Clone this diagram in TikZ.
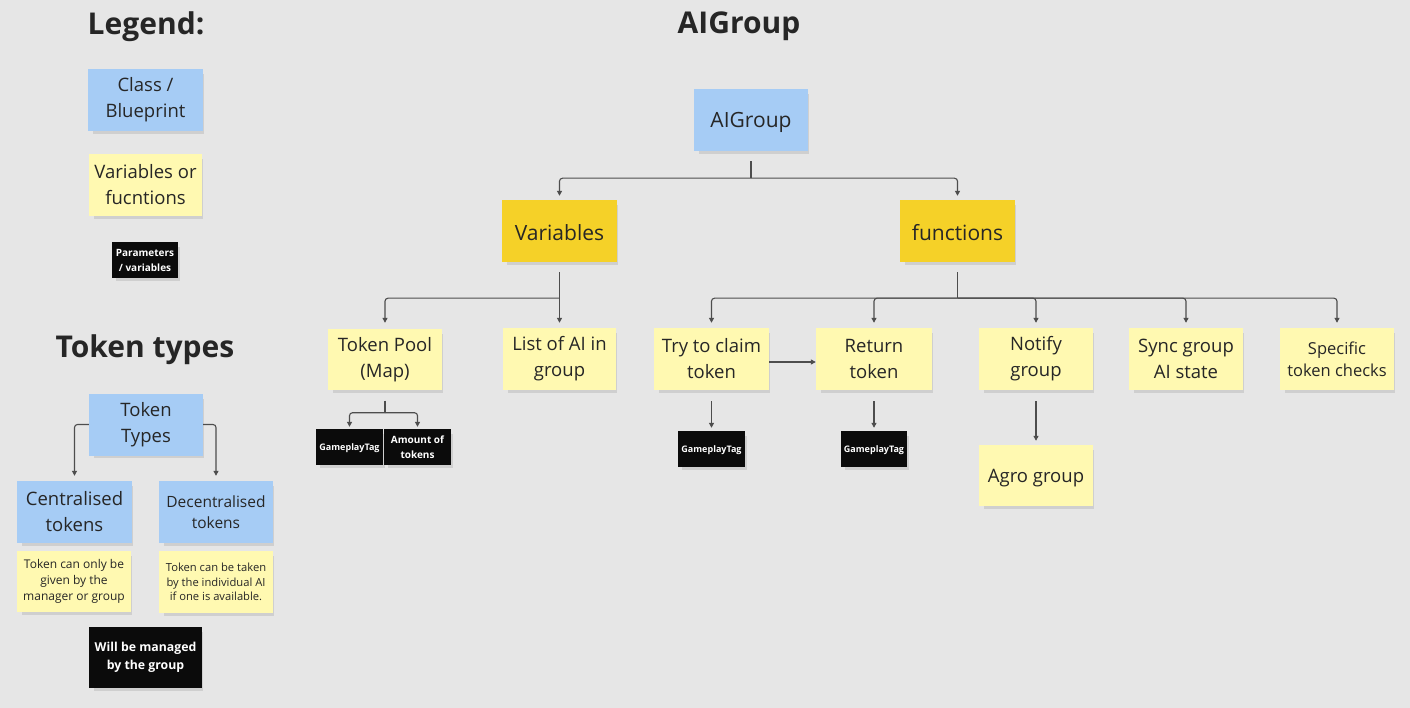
\documentclass[tikz,border=0pt]{standalone}
\usepackage{fontspec}
\setmainfont{Open Sans}
\usetikzlibrary{arrows.meta,shadows}
\definecolor{bgc}{HTML}{E6E6E6}
\definecolor{bluec}{HTML}{A6CCF5}
\definecolor{lyel}{HTML}{FFF9B1}
\definecolor{dyel}{HTML}{F5D128}
\definecolor{blk}{HTML}{0B0B0B}
\definecolor{txt}{HTML}{262626}
\definecolor{linec}{HTML}{4D4D4D}
\begin{document}
\begin{tikzpicture}[x=1pt,y=-1pt,
  note/.style={rectangle, inner sep=0pt, align=center, text=txt,
    minimum width=114pt, minimum height=62pt,
    font=\fontsize{18.5}{26}\selectfont,
    execute at begin node={\rule{0pt}{0.95em}},
    drop shadow={shadow xshift=3pt, shadow yshift=-4pt, shadow scale=0.96, opacity=0.22}},
  bluenote/.style={note, fill=bluec},
  ynote/.style={note, fill=lyel},
  dnote/.style={note, fill=dyel, font=\fontsize{21}{28}\selectfont},
  bnote/.style={note, fill=blk, text=white, minimum width=67pt, minimum height=36pt,
    font=\bfseries\fontsize{9}{14}\selectfont},
  ttl/.style={font=\bfseries\fontsize{30}{36}\selectfont, text=txt, inner sep=0pt, text depth=0pt},
  conn/.style={draw=linec, line width=1.1pt, rounded corners=3pt},
  arr/.style={conn, -{Triangle[length=5pt,width=5pt]}}
]
\useasboundingbox (0,0) rectangle (1410,708);
\fill[bgc] (0,0) rectangle (1410,708);

% Titles
\node[ttl] (tlegend) at (146,23) {Legend:};
\node[ttl] (tai) at (739,23) {AIGroup};
\node[ttl] (ttok) at (145,346) {Token types};

% Legend
\node[bluenote, minimum width=115pt] (cls) at (145.5,100) {Class /\\Blueprint};
\node[ynote, minimum width=113pt] (varf) at (145.5,185) {Variables or\\fucntions};
\node[bnote, minimum width=66pt, font=\bfseries\fontsize{10}{15}\selectfont] (param) at (145,260) {Parameters\\/ variables};

% Token types
\node[bluenote] (tt) at (146,424.5) {Token\\Types};
\node[bluenote, minimum width=115pt] (cen) at (74.5,512) {Centralised\\tokens};
\node[bluenote, font=\fontsize{15.5}{21}\selectfont] (dec) at (216,512) {Decentralised\\tokens};
\node[ynote, minimum height=61pt, font=\fontsize{12}{16}\selectfont] (cennote) at (74,581.5) {Token can only be\\given by the\\manager or group};
\node[ynote, font=\fontsize{11.2}{14.5}\selectfont] (decnote) at (216,582) {Token can be taken\\by the individual AI\\if one is available.};
\node[bnote, minimum width=113pt, minimum height=61pt, font=\bfseries\fontsize{12.3}{18}\selectfont] (managed) at (145.5,657.5) {Will be managed\\by the group};

\draw[arr] (tt.west) -| ([yshift=5pt]cen.north);
\draw[arr] (tt.east) -| ([yshift=5pt]dec.north);

% AIGroup tree
\node[bluenote, font=\fontsize{21}{28}\selectfont] (ai) at (751,120) {AIGroup};
\node[dnote, minimum width=115pt] (vars) at (559.5,231) {Variables};
\node[dnote, minimum width=115pt] (funcs) at (957.5,231) {functions};

\node[ynote, minimum height=61pt] (pool) at (385,359.5) {Token Pool\\(Map)};
\node[ynote, minimum width=113pt] (list) at (559.5,359) {List of AI in\\group};
\node[ynote, minimum width=115pt] (try) at (711.5,359) {Try to claim\\token};
\node[ynote, minimum width=116pt] (ret) at (874,359) {Return\\token};
\node[ynote] (notify) at (1036,359) {Notify\\group};
\node[ynote] (sync) at (1186,359) {Sync group\\AI state};
\node[ynote, font=\fontsize{16.5}{22}\selectfont] (spec) at (1337,359) {Specific\\token checks};

\node[bnote] (gt1) at (349.5,447) {GameplayTag};
\node[bnote, font=\bfseries\fontsize{10}{15}\selectfont] (amt) at (417.5,447) {Amount of\\tokens};
\node[bnote] (gt2) at (711.5,449) {GameplayTag};
\node[bnote, minimum width=66pt] (gt3) at (874,449) {GameplayTag};
\node[ynote, minimum height=61pt] (agro) at (1036,475.5) {Agro group};

% AIGroup -> Variables / functions
\coordinate (aib) at ([yshift=-27pt]ai.south);
\draw[conn] ([yshift=-10pt]ai.south) -- (aib);
\draw[arr] (aib) -| ([yshift=4pt]vars.north);
\draw[arr] (aib) -| ([yshift=4pt]funcs.north);

% Variables -> children
\coordinate (vb) at ([yshift=-36pt]vars.south);
\draw[conn] ([yshift=-10pt]vars.south) -- (vb);
\draw[arr] (vb) -| ([yshift=6pt]pool.north);
\draw[arr] (vb) -- ([yshift=5pt]list.north);

% functions -> children
\coordinate (fb) at ([yshift=-36pt]funcs.south);
\draw[conn] ([yshift=-10pt]funcs.south) -- (fb);
\draw[arr] (fb) -| ([yshift=5pt]try.north);
\draw[arr] (fb) -| ([yshift=5pt]ret.north);
\draw[arr] (fb) -| ([yshift=5pt]notify.north);
\draw[arr] (fb) -| ([yshift=5pt]sync.north);
\draw[arr] (fb) -| ([yshift=5pt]spec.north);

% Token pool -> gameplay tag / amount
\coordinate (pb) at ([yshift=-22.5pt]pool.south);
\draw[conn] ([yshift=-10.5pt]pool.south) -- (pb);
\draw[arr] (pb) -| ([yshift=2pt]gt1.north);
\draw[arr] (pb) -| ([yshift=2pt]amt.north);

% other arrows
\draw[arr] ([yshift=-3pt]try.east) -- ([yshift=-3pt]ret.west);
\draw[arr] ([yshift=-11pt]try.south) -- ([yshift=3pt]gt2.north);
\draw[arr] ([yshift=-11pt]ret.south) -- ([yshift=3pt]gt3.north);
\draw[arr] ([yshift=-11pt]notify.south) -- ([yshift=4pt]agro.north);
\end{tikzpicture}
\end{document}
